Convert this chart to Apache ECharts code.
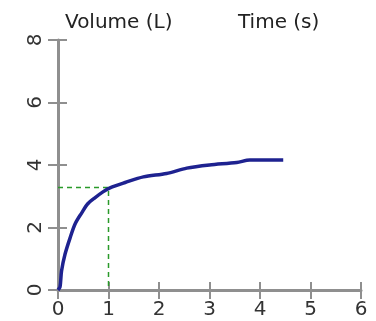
<!DOCTYPE html>
<html>
<head>
<meta charset="utf-8">
<script src="https://cdn.jsdelivr.net/npm/echarts@6/dist/echarts.min.js"></script>
<style>
  html, body { margin: 0; padding: 0; background: #fff; }
  #chart { width: 376px; height: 321px; }
</style>
</head>
<body>
<div id="chart"></div>
<script>
  // volume curve (time s, volume L)
  const timeValues = [0, 0.04, 0.07, 0.14, 0.24, 0.34, 0.47, 0.59, 0.73, 0.89, 1.03, 1.33, 1.69, 2.15, 2.55, 3.0, 3.54, 3.8, 4.46]
  const volumeValues = [0, 0.1, 0.61, 1.15, 1.67, 2.12, 2.47, 2.76, 2.95, 3.14, 3.27, 3.44, 3.62, 3.73, 3.9, 4.0, 4.08, 4.16, 4.16]
  // dashed guide at t = 1 s
  const guideTimes = [0, 1, 1]
  const guideVolumes = [3.28, 3.28, 0]
  const xTicks = [0, 1, 2, 3, 4, 5, 6]
  const yTicks = [0, 2, 4, 6, 8]

  const font = 'DejaVu Sans'
  const axisGrey = '#8f8f8f'

  const curve = timeValues.map((t, i) => [t, volumeValues[i]])
  const guide = guideTimes.map((t, i) => [t, guideVolumes[i]])

  const xBase = {
    type: 'value',
    min: xTicks[0],
    max: xTicks[xTicks.length - 1],
    interval: 1,
    splitLine: { show: false }
  }
  const yBase = {
    type: 'value',
    min: yTicks[0],
    max: yTicks[yTicks.length - 1],
    interval: 2,
    splitLine: { show: false }
  }

  const option = {
    animation: false,
    backgroundColor: '#fff',
    title: [
      { text: 'Volume (L)', left: 60, top: 8, textStyle: { fontFamily: font, fontSize: 20, fontWeight: 'normal', color: '#222' } },
      { text: 'Time (s)', left: 233, top: 8, textStyle: { fontFamily: font, fontSize: 20, fontWeight: 'normal', color: '#222' } }
    ],
    grid: { left: 58, right: 15, top: 40, bottom: 31, containLabel: false },
    xAxis: [
      Object.assign({}, xBase, {
        axisLine: { lineStyle: { color: axisGrey, width: 3 } },
        axisTick: { length: 9, lineStyle: { color: axisGrey, width: 2 } },
        axisLabel: { margin: 10, fontFamily: font, fontSize: 20, color: '#333' }
      }),
      Object.assign({}, xBase, {
        position: 'bottom',
        axisLine: { show: false },
        axisTick: { inside: true, length: 8, lineStyle: { color: axisGrey, width: 2 } },
        axisLabel: { show: false }
      })
    ],
    yAxis: [
      Object.assign({}, yBase, {
        axisLine: { lineStyle: { color: axisGrey, width: 3 } },
        axisTick: { length: 10, lineStyle: { color: axisGrey, width: 2 } },
        axisLabel: { margin: 12, rotate: 90, fontFamily: font, fontSize: 20, color: '#333' }
      }),
      Object.assign({}, yBase, {
        position: 'left',
        axisLine: { show: false },
        axisTick: { inside: true, length: 9, lineStyle: { color: axisGrey, width: 2 } },
        axisLabel: { show: false }
      })
    ],
    series: [
      {
        name: 'guide',
        type: 'line',
        data: guide,
        symbol: 'none',
        z: 1,
        lineStyle: { color: '#2a9a2a', width: 1.5, type: [5, 4] }
      },
      {
        name: 'volume',
        type: 'line',
        data: curve,
        symbol: 'none',
        smooth: 0.3,
        z: 2,
        lineStyle: { color: '#1e2290', width: 3.5 }
      }
    ]
  }

  const myChart = echarts.init(document.getElementById('chart'))
  myChart.setOption(option, true)
</script>
</body>
</html>
